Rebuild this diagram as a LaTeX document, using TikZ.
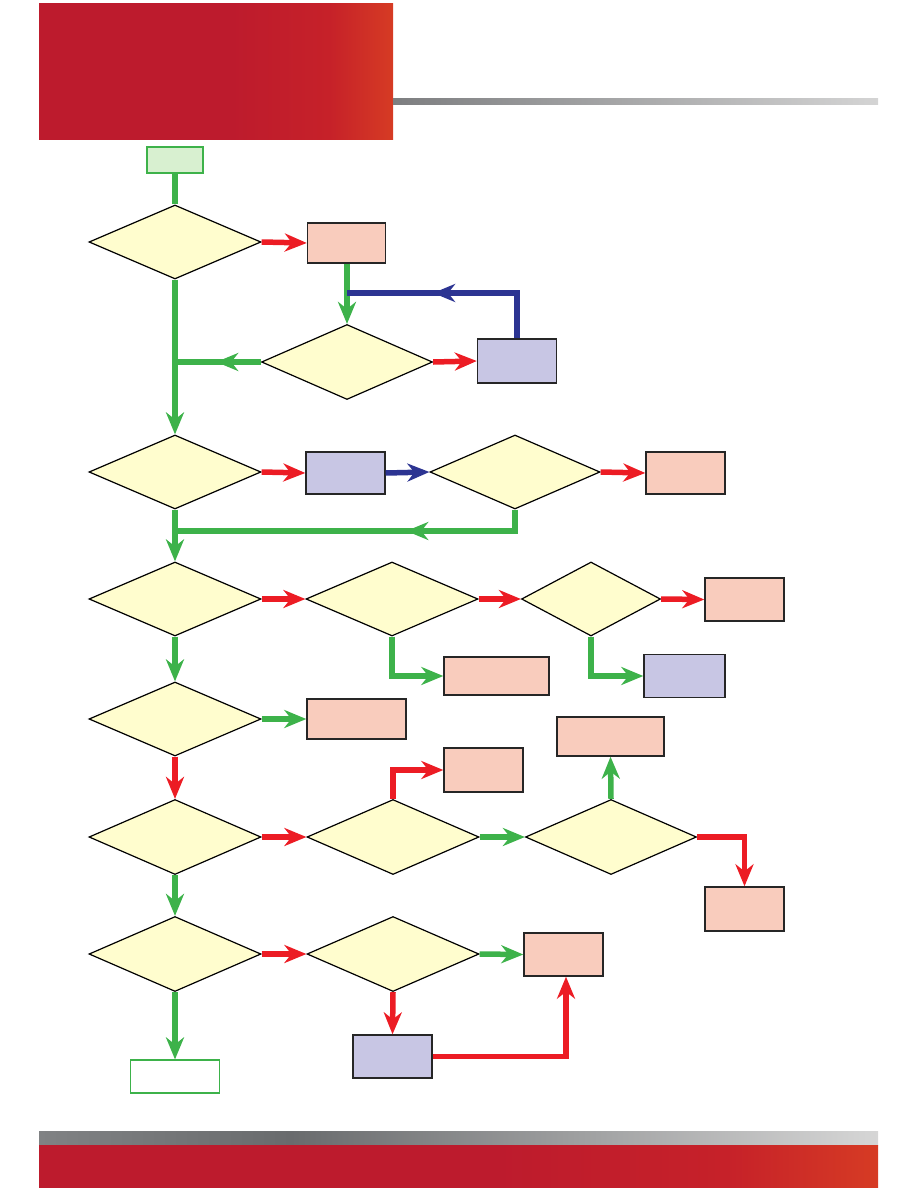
\documentclass[tikz,border=0pt]{standalone}
\usetikzlibrary{shapes.geometric,arrows.meta,decorations.markings}
\definecolor{cgreen}{RGB}{61,178,74}
\definecolor{cred}{RGB}{236,28,36}
\definecolor{cblue}{RGB}{44,52,146}
\definecolor{dfill}{RGB}{255,253,206}
\definecolor{pfill}{RGB}{249,204,189}
\definecolor{lfill}{RGB}{200,198,228}
\definecolor{sfill}{RGB}{216,240,208}
\definecolor{hdrA}{RGB}{189,27,45}
\definecolor{hdrB}{RGB}{198,33,41}
\definecolor{hdrC}{RGB}{214,59,36}
\definecolor{gA}{RGB}{125,126,128}
\definecolor{gB}{RGB}{212,212,212}
\definecolor{fgA}{RGB}{128,130,132}
\definecolor{fgB}{RGB}{105,107,109}
\definecolor{fgC}{RGB}{214,214,214}
% TikZ maps the path onto the 25bp--75bp part of a 100bp shading
\pgfdeclarehorizontalshading{hdrshade}{100bp}{color(0bp)=(hdrA); color(25bp)=(hdrA); color(52bp)=(hdrA); color(66bp)=(hdrB); color(75bp)=(hdrC); color(100bp)=(hdrC)}
\pgfdeclarehorizontalshading{grayshade}{100bp}{color(0bp)=(gA); color(25bp)=(gA); color(75bp)=(gB); color(100bp)=(gB)}
\pgfdeclarehorizontalshading{footgray}{100bp}{color(0bp)=(fgA); color(25bp)=(fgA); color(40bp)=(fgB); color(75bp)=(fgC); color(100bp)=(fgC)}
\tikzset{
  dia/.style={diamond, draw=black, line width=1.2pt, fill=dfill, inner sep=0pt, aspect=2.3},
  pbox/.style={rectangle, draw=black!85, line width=1.4pt, fill=pfill, inner sep=0pt},
  lbox/.style={rectangle, draw=black!85, line width=1.4pt, fill=lfill, inner sep=0pt},
  conn/.style={line width=5.5pt},
  arr/.style={-{Stealth[length=22pt,width=18pt,inset=7pt]}},
  gl/.style={conn, draw=cgreen},
  rl/.style={conn, draw=cred},
  bl/.style={conn, draw=cblue},
  midarr/.style={postaction={decorate}, decoration={markings, mark=at position #1 with {\arrow{Stealth[length=22pt,width=18pt,inset=7pt]}}}},
}
\begin{document}
\begin{tikzpicture}[x=1pt,y=-1pt]
\useasboundingbox (0,0) rectangle (918,1188);
% header and footer
\fill[shading=hdrshade] (39,4) rectangle (393,140);
\fill[shading=grayshade] (393,99) rectangle (878,105);
\fill[shading=footgray] (39,1131) rectangle (878,1145);
\fill[shading=hdrshade] (39,1145) rectangle (878,1188);
% nodes
\node[rectangle, draw=cgreen, line width=1.2pt, fill=sfill, minimum width=56pt, minimum height=26pt, inner sep=0pt] (start) at (175,160) {};
\node[dia, minimum width=172pt, minimum height=74pt] (d1) at (175,242) {};
\node[pbox, minimum width=78pt, minimum height=40pt] (p1) at (346.5,243) {};
\node[dia, minimum width=171pt, minimum height=75pt] (d2) at (347,362) {};
\node[lbox, minimum width=79pt, minimum height=44pt] (l1) at (517,361) {};
\node[dia, minimum width=172pt, minimum height=74pt] (d3) at (175,472) {};
\node[lbox, minimum width=79pt, minimum height=42pt] (l2) at (345.5,473) {};
\node[dia, minimum width=170pt, minimum height=74pt] (d4) at (515,472) {};
\node[pbox, minimum width=79pt, minimum height=42pt] (p2) at (685.5,473) {};
\node[dia, minimum width=172pt, minimum height=74pt] (d5) at (175,599) {};
\node[dia, minimum width=172pt, minimum height=74pt] (d6) at (392,599) {};
\node[dia, minimum width=139pt, minimum height=74pt] (d7) at (591,599) {};
\node[pbox, minimum width=79pt, minimum height=43pt] (p3) at (744.5,599.5) {};
\node[pbox, minimum width=105pt, minimum height=38pt] (p4) at (496.5,676) {};
\node[lbox, minimum width=81pt, minimum height=43pt] (l3) at (684.5,676) {};
\node[dia, minimum width=172pt, minimum height=74pt] (d8) at (175,719) {};
\node[pbox, minimum width=99pt, minimum height=40pt] (p5) at (356.5,719) {};
\node[pbox, minimum width=79pt, minimum height=44pt] (p6) at (483.5,770) {};
\node[pbox, minimum width=107pt, minimum height=39pt] (p7) at (610.5,736.5) {};
\node[dia, minimum width=172pt, minimum height=75pt] (d9) at (175,837) {};
\node[dia, minimum width=172pt, minimum height=75pt] (d10) at (393,837) {};
\node[dia, minimum width=171pt, minimum height=75pt] (d11) at (611,837) {};
\node[pbox, minimum width=79pt, minimum height=44pt] (p8) at (744.5,909) {};
\node[dia, minimum width=172pt, minimum height=75pt] (d12) at (175,954) {};
\node[dia, minimum width=172pt, minimum height=75pt] (d13) at (393,954) {};
\node[pbox, minimum width=79pt, minimum height=43pt] (p9) at (563.5,954.5) {};
\node[lbox, minimum width=79pt, minimum height=43pt] (l4) at (392.5,1056.5) {};
\node[rectangle, draw=cgreen, line width=1.2pt, fill=white, minimum width=89pt, minimum height=33pt, inner sep=0pt] (end) at (175,1076.5) {};
% junction coordinates
\coordinate (j1) at (d2.north |- 0,293);
\coordinate (j2) at (d1.south |- d2.west);
\coordinate (j3) at (175,531);
% connectors
\draw[gl] (start.south) -- (d1.north);
\draw[rl,arr] (d1.east) -- (p1.west);
\draw[gl,arr] (p1.south -| d2.north) -- (d2.north);
\draw[bl,midarr=0.6] (l1.north) |- (j1);
\draw[rl,arr] (d2.east) -- (l1.west);
\draw[gl,midarr=0.52] (d2.west) -- (j2);
\draw[gl,arr] (d1.south) -- (d3.north);
\draw[rl,arr] (d3.east) -- (l2.west);
\draw[bl,arr] (l2.east) -- (d4.west);
\draw[rl,arr] (d4.east) -- (p2.west);
\draw[gl,midarr=0.36] (d4.south) |- (j3);
\draw[gl,arr] (d3.south) -- (d5.north);
\draw[rl,arr] (d5.east) -- (d6.west);
\draw[rl,arr] (d6.east) -- (d7.west);
\draw[rl,arr] (d7.east) -- (p3.west);
\draw[gl,arr] (d6.south) |- (p4.west);
\draw[gl,arr] (d7.south) |- (l3.west);
\draw[gl,arr] (d5.south) -- (d8.north);
\draw[gl,arr] (d8.east) -- (p5.west);
\draw[rl,arr] (d8.south) -- (d9.north);
\draw[rl,arr] (d9.east) -- (d10.west);
\draw[rl,arr] (d10.north) |- (p6.west);
\draw[gl,arr] (d10.east) -- (d11.west);
\draw[gl,arr] (d11.north) -- (p7.south);
\draw[rl,arr] (d11.east) -| (p8.north);
\draw[gl,arr] (d9.south) -- (d12.north);
\draw[rl,arr] (d12.east) -- (d13.west);
\draw[gl,arr] (d13.east) -- (p9.west);
\draw[rl,arr] (d13.south) -- (l4.north);
\draw[rl,arr] (l4.east) -| ([xshift=2.5pt]p9.south);
\draw[gl,arr] (d12.south) -- (end.north);
\end{tikzpicture}
\end{document}
